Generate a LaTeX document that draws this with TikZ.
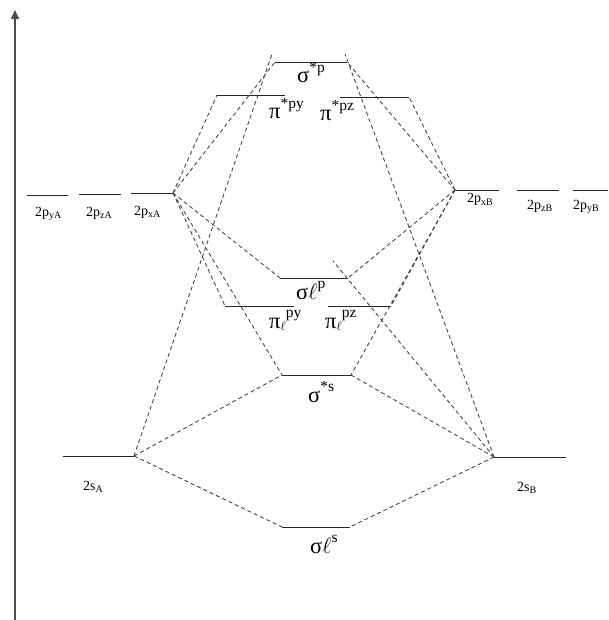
\documentclass[tikz,border=0pt]{standalone}
\usepackage{fix-cm}
\usepackage{fontspec}
\setmainfont{Liberation Serif}
\usetikzlibrary{arrows.meta}
\newcommand\lowsub[1]{\raisebox{-0.15em}{\fontsize{10}{10}\selectfont #1}}
\newcommand\highsup[1]{\raisebox{0.45em}{\fontsize{15.5}{15.5}\selectfont #1}}
\newcommand\smallell{\raisebox{-0.1em}{\fontsize{13}{13}\selectfont$\ell$}}
\begin{document}
\begin{tikzpicture}[x=1pt,y=-1pt,
  lvl/.style={draw=black!85,line width=0.9pt},
  conn/.style={draw=black!75,dash pattern=on 4pt off 3pt,line width=0.85pt},
  axisline/.style={draw=black!70,line width=1.6pt,-{Triangle[length=9pt,width=8pt]}},
  small/.style={font=\fontsize{14}{14}\selectfont,anchor=base west,inner sep=0pt},
  big/.style={font=\fontsize{22.5}{22.5}\selectfont,anchor=base west,inner sep=0pt}]
\useasboundingbox (0,0) rectangle (608,620);
\fill[white] (0,0) rectangle (608,620);
% axis
\coordinate (axB) at (15,620);
\coordinate (axT) at (15,10);
\draw[axisline] (axB) -- (axT);
% atomic levels
\coordinate (pyAl) at (27,195);  \coordinate (pyAr) at (68,195);
\coordinate (pzAl) at (79,194);  \coordinate (pzAr) at (121,194);
\coordinate (pxAl) at (131,193); \coordinate (pxAr) at (173,193);
\coordinate (pxBl) at (455,190); \coordinate (pxBr) at (499,190);
\coordinate (pzBl) at (517,190); \coordinate (pzBr) at (559,190);
\coordinate (pyBl) at (573,190); \coordinate (pyBr) at (608,190);
\coordinate (sAl) at (63,456);   \coordinate (sAr) at (134,456);
\coordinate (sBl) at (494,457);  \coordinate (sBr) at (566,457);
% molecular levels
\coordinate (sgPl) at (275,62);  \coordinate (sgPr) at (347,62);
\coordinate (piYl) at (217,95);  \coordinate (piYr) at (285,95);
\coordinate (piZl) at (340,97);  \coordinate (piZr) at (409,97);
\coordinate (sbPl) at (280,278); \coordinate (sbPr) at (348,278);
\coordinate (pbYl) at (225,306); \coordinate (pbYr) at (294,306);
\coordinate (pbZl) at (328,306); \coordinate (pbZr) at (391,306);
\coordinate (ssSl) at (282,375); \coordinate (ssSr) at (351,375);
\coordinate (sbSl) at (282,527); \coordinate (sbSr) at (350,527);
% free ends of dashed lines
\coordinate (tA) at (272,54);
\coordinate (tB) at (345,54);
\coordinate (tC) at (333,261);
% level lines
\foreach \a/\b in {pyAl/pyAr,pzAl/pzAr,pxAl/pxAr,pxBl/pxBr,pzBl/pzBr,pyBl/pyBr,
  sAl/sAr,sBl/sBr,sgPl/sgPr,piYl/piYr,piZl/piZr,sbPl/sbPr,pbYl/pbYr,pbZl/pbZr,
  ssSl/ssSr,sbSl/sbSr}
  \draw[lvl] (\a) -- (\b);
% connectors
\foreach \t in {sgPl,piYl,sbPl,pbYl,ssSl} \draw[conn] (pxAr) -- (\t);
\foreach \t in {sgPr,piZr,sbPr,pbZr,ssSr} \draw[conn] (pxBl) -- (\t);
\foreach \t in {tA,ssSl,sbSl} \draw[conn] (sAr) -- (\t);
\foreach \t in {tB,ssSr,sbSr,tC} \draw[conn] (sBl) -- (\t);
% atomic labels
\node[small] (lpyA) at (35,216) {2p\lowsub{yA}};
\node[small] (lpzA) at (86,216) {2p\lowsub{zA}};
\node[small] (lpxA) at (134,215) {2p\lowsub{xA}};
\node[small] (lpxB) at (467,203) {2p\lowsub{xB}};
\node[small] (lpzB) at (527,209) {2p\lowsub{zB}};
\node[small] (lpyB) at (573,209) {2p\lowsub{yB}};
\node[small] (lsA) at (83,490) {2s\lowsub{A}};
\node[small] (lsB) at (517,491) {2s\lowsub{B}};
% molecular labels
\node[big] (lsgP) at (297,83) {σ\highsup{*p}};
\node[big] (lpiY) at (269,119) {π\highsup{*py}};
\node[big] (lpiZ) at (320,121) {π\highsup{*pz}};
\node[big] (lsbP) at (296,299) {σ$\ell$\highsup{p}};
\node[big] (lpbY) at (269,328) {π\smallell\highsup{py}};
\node[big] (lpbZ) at (325,328) {π\smallell\highsup{pz}};
\node[big] (lssS) at (308,402) {σ\highsup{*s}};
\node[big] (lsbS) at (310,553) {σ$\ell$\highsup{s}};
\end{tikzpicture}
\end{document}
